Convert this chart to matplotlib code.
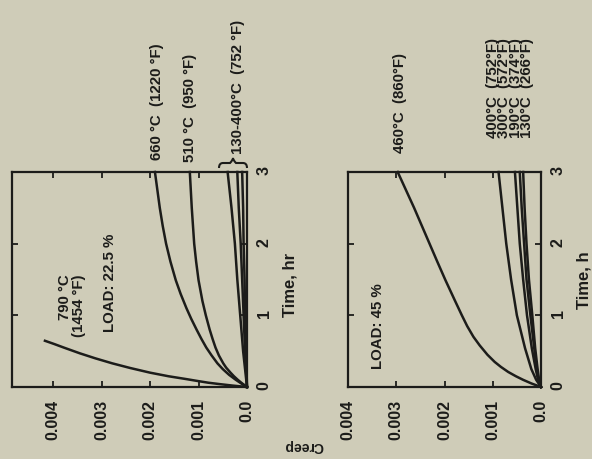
import matplotlib
matplotlib.use("Agg")
import matplotlib.pyplot as plt
from matplotlib.path import Path
from matplotlib.patches import PathPatch

W, H = 592, 459
BG = "#cfccb8"
INK = "#1c1c1a"

plt.rcParams['font.family'] = ['Liberation Sans', 'DejaVu Sans']

# ---------------- data (time in hr, creep strain) ----------------
# Load 22.5 %
t_790 = [0, 0.02, 0.04, 0.06, 0.085, 0.11, 0.15, 0.2, 0.265, 0.33, 0.4, 0.47, 0.55, 0.6, 0.645]
c_790 = [0, 0.0003, 0.00056, 0.0008, 0.00103, 0.00125, 0.00162, 0.002, 0.00241, 0.00278,
         0.00313, 0.00345, 0.00378, 0.00398, 0.00417]
t_660 = [0, 0.05, 0.1, 0.17, 0.25, 0.33, 0.44, 0.55, 0.67, 0.8, 0.95, 1.1, 1.3, 1.49,
         1.75, 2.0, 2.25, 2.5, 2.75, 3.0]
c_660 = [0, 0.00012, 0.00023, 0.00037, 0.0005, 0.00061, 0.00073, 0.00084, 0.00094, 0.00104,
         0.00115, 0.00125, 0.00137, 0.00147, 0.00158, 0.00167, 0.00174, 0.0018, 0.00185, 0.0019]
t_510 = [0, 0.05, 0.1, 0.15, 0.2, 0.27, 0.33, 0.44, 0.55, 0.67, 0.8, 1.0, 1.2, 1.49,
         1.75, 2.0, 2.5, 3.0]
c_510 = [0, 0.0001, 0.00019, 0.00027, 0.00034, 0.00043, 0.00049, 0.00058, 0.00065, 0.00071,
         0.00077, 0.00085, 0.00092, 0.001, 0.00105, 0.00109, 0.00114, 0.00118]
t_low1 = [0, 0.5, 1.0, 1.5, 2.0, 2.5, 3.0]
c_low1_a = [0, 0.00008, 0.00014, 0.0002, 0.00025, 0.00032, 0.0004]
c_low1_b = [0, 0.00004, 0.00007, 0.0001, 0.00013, 0.00017, 0.0002]
c_low1_c = [0, 0.00002, 0.00004, 0.00005, 0.00007, 0.00008, 0.0001]

# Load 45 %
t_460 = [0, 0.05, 0.1, 0.15, 0.21, 0.28, 0.35, 0.45, 0.58, 0.7, 0.85, 1.0, 1.2, 1.49,
         1.75, 2.0, 2.25, 2.5, 2.75, 3.0]
c_460 = [0, 0.0002, 0.00037, 0.00052, 0.00068, 0.00083, 0.00096, 0.00111, 0.00127, 0.0014,
         0.00153, 0.00164, 0.00178, 0.00198, 0.00215, 0.00231, 0.00247, 0.00263, 0.0028, 0.00297]
t_low2 = [0, 0.1, 0.25, 0.54, 1.0, 1.5, 2.0, 2.5, 3.0]
c_400 = [0, 0.0001, 0.0002, 0.00033, 0.0005, 0.00062, 0.00072, 0.0008, 0.00088]
c_300 = [0, 0.00006, 0.00011, 0.00019, 0.00029, 0.00037, 0.00044, 0.00049, 0.00054]
c_190 = [0, 0.00005, 0.00009, 0.00014, 0.00022, 0.0003, 0.00035, 0.0004, 0.00044]
c_130 = [0, 0.00004, 0.00007, 0.00012, 0.00018, 0.00025, 0.0003, 0.00034, 0.00037]

creep_ticks = [0, 0.001, 0.002, 0.003, 0.004]
creep_labels = ['0.0', '0.001', '0.002', '0.003', '0.004']
time_ticks = [0, 1, 2, 3]
time_labels = ['0', '1', '2', '3']

fig = plt.figure(figsize=(W / 100, H / 100), dpi=100, facecolor=BG)


def fx(x):
    return x / W


def fy(y):
    return 1 - y / H


def make_axes(x0, x1, y0, y1, cmax):
    ax = fig.add_axes([fx(x0), fy(y1), (x1 - x0) / W, (y1 - y0) / H])
    ax.set_facecolor(BG)
    ax.set_xlim(cmax, 0)
    ax.set_ylim(0, 3)
    ax.set_xticks(creep_ticks)
    ax.set_xticklabels(creep_labels)
    ax.set_yticks(time_ticks)
    ax.set_yticklabels(time_labels)
    ax.tick_params(axis='x', direction='in', top=True, bottom=True, length=4, width=1.3,
                   labelrotation=90, pad=9, labelsize=11.5, colors=INK)
    ax.tick_params(axis='y', direction='in', left=True, right=True, length=4, width=1.3,
                   labelleft=False, labelright=True, labelrotation=90, pad=7,
                   labelsize=11.5, colors=INK)
    for lab in ax.get_xticklabels() + ax.get_yticklabels():
        lab.set_fontweight('bold')
    for s in ax.spines.values():
        s.set_linewidth(1.6)
        s.set_color(INK)
    return ax


ax1 = make_axes(12, 247, 172, 387, 0.00485)
ax2 = make_axes(348, 541, 172, 387, 0.004)

lw = 1.8
for t, c in [(t_790, c_790), (t_660, c_660), (t_510, c_510),
             (t_low1, c_low1_a), (t_low1, c_low1_b), (t_low1, c_low1_c)]:
    ax1.plot(c, t, color=INK, lw=lw, clip_on=False, solid_joinstyle='round')
for t, c in [(t_460, c_460), (t_low2, c_400), (t_low2, c_300),
             (t_low2, c_190), (t_low2, c_130)]:
    ax2.plot(c, t, color=INK, lw=lw, clip_on=False, solid_joinstyle='round')


def txt(x, y, s, size=10.8, rot=90, weight='bold', **kw):
    fig.text(fx(x), fy(y), s, rotation=rot, ha='center', va='center',
             fontsize=size, color=INK, fontweight=weight, **kw)


# panel 1 annotations
txt(157, 102, "660 °C  (1220 °F)")
txt(190, 108, "510 °C  (950 °F)")
txt(238, 87, "130-400°C  (752 °F)")
txt(72, 306, "790 °C\n(1454 °F)", multialignment='right', linespacing=1.0)
txt(110, 283, "LOAD: 22.5 %")
txt(290, 285, "Time, hr", size=12)

# curly brace grouping the 130-400 °C curves (pixel coordinates, y downward)
bx = [219, 219, 223, 230, 233, 233, 233, 236, 243, 247, 247]
by = [168, 163, 163, 163, 160, 158, 160, 163, 163, 163, 168]
verts = [(fx(a), fy(b)) for a, b in zip(bx, by)]
codes = [Path.MOVETO, Path.CURVE3, Path.CURVE3, Path.LINETO, Path.CURVE3, Path.CURVE3,
         Path.CURVE3, Path.CURVE3, Path.LINETO, Path.CURVE3, Path.CURVE3]
fig.patches.append(PathPatch(Path(verts, codes), transform=fig.transFigure, fill=False,
                             edgecolor=INK, lw=1.5, figure=fig))

# panel 2 annotations
txt(400, 103, "460°C  (860°F)")
txt(510, 88, "400°C  (752°F)\n300°C  (572°F)\n190°C  (374°F)\n130°C  (266°F)",
    linespacing=0.78, multialignment='left')
txt(378, 326, "LOAD: 45 %")
txt(584, 280, "Time, h", size=12)

# shared label
txt(304, 446, "Creep", size=10, rot=180)

fig.savefig("out.png", dpi=100, facecolor=BG)
